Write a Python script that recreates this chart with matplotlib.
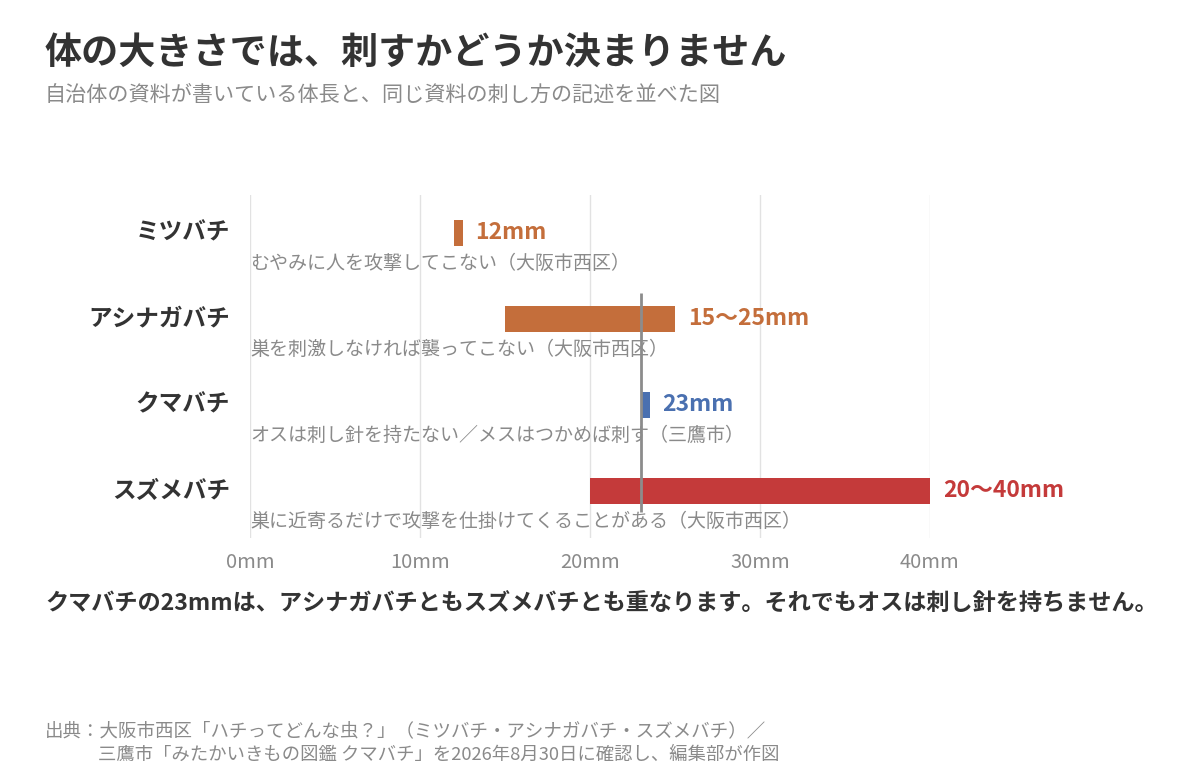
import numpy as np
import matplotlib.pyplot as plt

plt.rcParams['font.family'] = ['Noto Sans CJK JP', 'DejaVu Sans']

# データ
species = ['ミツバチ', 'アシナガバチ', 'クマバチ', 'スズメバチ']
size_min = [12, 15, 23, 20]
size_max = [12, 25, 23, 40]
value_labels = ['12mm', '15〜25mm', '23mm', '20〜40mm']
notes = [
    'むやみに人を攻撃してこない（大阪市西区）',
    '巣を刺激しなければ襲ってこない（大阪市西区）',
    'オスは刺し針を持たない／メスはつかめば刺す（三鷹市）',
    '巣に近寄るだけで攻撃を仕掛けてくることがある（大阪市西区）',
]
bar_colors = ['#C46E3B', '#C46E3B', '#4A70B0', '#C43A3A']
x_ticks = [0, 10, 20, 30, 40]
x_tick_labels = ['0mm', '10mm', '20mm', '30mm', '40mm']
ref_value = 23

W, H = 1200, 780
fig = plt.figure(figsize=(W / 100, H / 100), dpi=100)
fig.patch.set_facecolor('white')

def px(x, y):
    return x / W, 1 - y / H

# 軸の位置（ピクセルから）
ax = fig.add_axes([250 / W, (H - 538) / H, 680 / W, 343 / H])
ax.set_xlim(0, 40)
ax.set_ylim(3.55, -0.44)
for s in ax.spines.values():
    s.set_visible(False)
ax.set_yticks([])
ax.set_xticks(x_ticks)
ax.set_xticklabels(x_tick_labels, color='#8a8a8a', fontsize=14.5)
ax.tick_params(axis='x', length=0, pad=10)
ax.grid(axis='x', color='#e2e2e2', linewidth=1)
ax.set_axisbelow(True)

y = np.arange(len(species))
min_w = 0.5
widths = [max(b - a, min_w) for a, b in zip(size_min, size_max)]
ax.barh(y, widths, left=size_min, height=0.3, color=bar_colors, zorder=2)

for i in range(len(species)):
    end = size_min[i] + widths[i]
    ax.annotate(value_labels[i], (end, y[i]), xytext=(13, 0), textcoords='offset pixels',
                va='center', ha='left', fontsize=16.5, fontweight='bold', color=bar_colors[i])
    ax.text(0, y[i] + 0.36, notes[i], va='center', ha='left', fontsize=13.7, color='#8a8a8a')
    ax.annotate(species[i], (0, y[i]), xytext=(-20, 0), textcoords='offset pixels',
                va='center', ha='right', fontsize=17, fontweight='bold', color='#333333',
                annotation_clip=False)

ax.vlines(ref_value, 0.7, 3.25, color='#8c8c8c', linewidth=2, zorder=3)

# タイトル等
fig.text(*px(45, 53), '体の大きさでは、刺すかどうか決まりません', fontsize=26.7,
         fontweight='bold', color='#333333', va='center', ha='left')
fig.text(*px(45, 95), '自治体の資料が書いている体長と、同じ資料の刺し方の記述を並べた図',
         fontsize=15.2, color='#8a8a8a', va='center', ha='left')
fig.text(*px(45, 604), 'クマバチの23mmは、アシナガバチともスズメバチとも重なります。それでもオスは刺し針を持ちません。',
         fontsize=16.7, fontweight='bold', color='#333333', va='center', ha='left')
fig.text(*px(45, 731), '出典：大阪市西区「ハチってどんな虫？」（ミツバチ・アシナガバチ・スズメバチ）／',
         fontsize=13.3, color='#8a8a8a', va='center', ha='left')
fig.text(*px(98, 755), '三鷹市「みたかいきもの図鑑 クマバチ」を2026年8月30日に確認し、編集部が作図',
         fontsize=13.2, color='#8a8a8a', va='center', ha='left')

fig.savefig('out.png', dpi=100)
